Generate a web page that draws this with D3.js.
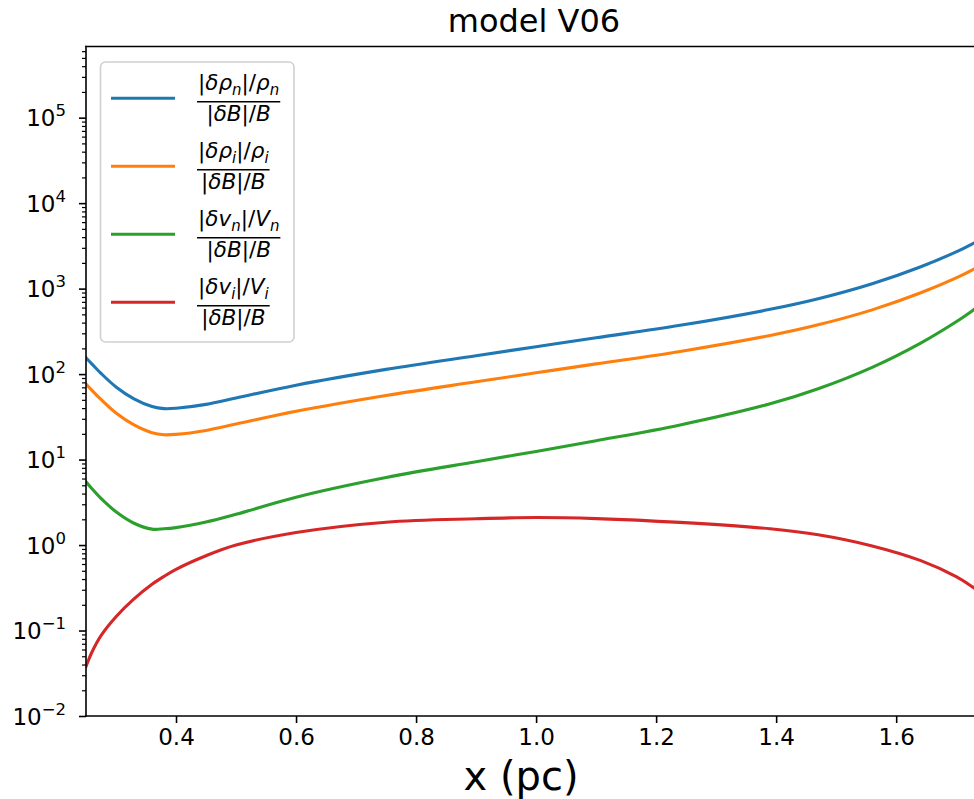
<!DOCTYPE html>
<html><head><meta charset="utf-8">
<script src="https://cdn.jsdelivr.net/npm/d3@7"></script>
<style>body{margin:0;background:#fff} svg{display:block} text{font-family:"DejaVu Sans",sans-serif;fill:#000}</style>
</head><body><svg id="c" width="974" height="799"></svg>
<script>
// ---- data ----
const xValues = [0.25, 0.26, 0.275, 0.3, 0.33, 0.36, 0.38, 0.4, 0.45, 0.5, 0.6, 0.75, 0.9, 1.0, 1.1, 1.24, 1.39, 1.47, 1.56, 1.64, 1.70, 1.727, 1.745];
const rhoN = [155, 131, 102, 70.8, 51.3, 41.7, 39.4, 39.8, 44.2, 52.5, 74.1, 113.5, 164, 209, 266, 372, 572, 761, 1140, 1791, 2692, 3346, 3950];
const rhoI = [76.7, 64.5, 50.5, 35.0, 25.4, 20.6, 19.5, 19.7, 21.9, 26.0, 36.7, 56.2, 81.2, 103.5, 131.7, 184, 283, 377, 564, 887, 1333, 1656, 1955];
const velN = [5.50, 4.55, 3.51, 2.45, 1.80, 1.535, 1.55, 1.60, 1.86, 2.29, 3.63, 6.17, 9.44, 12.45, 16.6, 25.4, 44.9, 67.4, 120, 229, 410, 552, 685];
const velI = [0.038, 0.056, 0.087, 0.145, 0.234, 0.347, 0.43, 0.52, 0.75, 1.0, 1.40, 1.85, 2.03, 2.10, 2.04, 1.84, 1.55, 1.32, 0.977, 0.661, 0.427, 0.324, 0.263];
const seriesColors = ["#1f77b4", "#ff7f0e", "#2ca02c", "#d62728"];
const xTickValues = [0.4, 0.6, 0.8, 1.0, 1.2, 1.4, 1.6];
const yTickExponents = [-2, -1, 0, 1, 2, 3, 4, 5];
const xDomain = [0.25, 1.743];
const yDomain = [1e-2, 6.8e5];
const titleText = "model V06";
const xLabelText = "x (pc)";
const legendNum = [
  {a:"δρ", s1:"n", b:"ρ", s2:"n"},
  {a:"δρ", s1:"i", b:"ρ", s2:"i"},
  {a:"δv", s1:"n", b:"V", s2:"n"},
  {a:"δv", s1:"i", b:"V", s2:"i"}
];

const series = [rhoN, rhoI, velN, velI];

// ---- layout ----
const svg = d3.select("#c");
const L = 86, R = 982, T = 46.5, B = 716;
const x = d3.scaleLinear().domain(xDomain).range([L, R]);
const y = d3.scaleLog().domain(yDomain).range([B, T]);

svg.append("defs").append("clipPath").attr("id","clip")
  .append("rect").attr("x",L).attr("y",T).attr("width",R-L).attr("height",B-T);

const line = d3.line().x((d,i)=>x(xValues[i])).y(d=>y(d)).curve(d3.curveCatmullRom.alpha(0.5));
const g = svg.append("g").attr("clip-path","url(#clip)");
series.forEach((s,k)=>{
  g.append("path").attr("d", line(s)).attr("fill","none")
   .attr("stroke", seriesColors[k]).attr("stroke-width",3.1)
   .attr("stroke-linecap","square");
});

// spines
svg.append("line").attr("x1",L).attr("x2",L).attr("y1",T).attr("y2",B).attr("stroke","#000").attr("stroke-width",1.6).attr("stroke-linecap","square");
svg.append("line").attr("x1",L).attr("x2",R).attr("y1",B).attr("y2",B).attr("stroke","#000").attr("stroke-width",1.6).attr("stroke-linecap","square");
svg.append("line").attr("x1",L).attr("x2",R).attr("y1",T).attr("y2",T).attr("stroke","#000").attr("stroke-width",1.6).attr("stroke-linecap","square");

// x axis
const xAxis = d3.axisBottom(x).tickValues(xTickValues).tickSize(7).tickPadding(6).tickFormat(d3.format(".1f"));
const gx = svg.append("g").attr("transform",`translate(0,${B})`).call(xAxis);
gx.select(".domain").remove();
gx.selectAll(".tick line").attr("stroke","#000").attr("stroke-width",1.6);
gx.selectAll(".tick text").attr("font-size",23).attr("font-family","DejaVu Sans").attr("fill","#000").attr("dy","0.71em");

// y axis major
const yAxis = d3.axisLeft(y).tickValues(yTickExponents.map(e=>Math.pow(10,e))).tickSize(7).tickFormat("");
const gy = svg.append("g").attr("transform",`translate(${L},0)`).call(yAxis);
gy.select(".domain").remove();
gy.selectAll(".tick line").attr("stroke","#000").attr("stroke-width",1.6);
const minor = [];
for (let e=-2; e<=5; e++) for (let m=2; m<=9; m++) { const v=m*Math.pow(10,e); if (v<=yDomain[1]) minor.push(v); }
const yMinor = d3.axisLeft(y).tickValues(minor).tickSize(4).tickFormat("");
const gym = svg.append("g").attr("transform",`translate(${L},0)`).call(yMinor);
gym.select(".domain").remove();
gym.selectAll(".tick line").attr("stroke","#000").attr("stroke-width",1.2);
yTickExponents.forEach(e=>{
  const t = svg.append("text").attr("x",66).attr("y",y(Math.pow(10,e))+8.5).attr("text-anchor","end").attr("font-size",23);
  t.append("tspan").text("10");
  t.append("tspan").attr("dy",-10).attr("font-size",16.5).text(e<0 ? "\u2212"+Math.abs(e) : String(e));
});

// title and x label
svg.append("text").attr("x",(L+R)/2).attr("y",32).attr("text-anchor","middle").attr("font-size",32).text(titleText);
svg.append("text").attr("x",521).attr("y",790).attr("text-anchor","middle").attr("font-size",40).text(xLabelText);

// legend
const lg = svg.append("g");
lg.append("rect").attr("x",100.5).attr("y",62).attr("width",193.5).attr("height",280).attr("rx",5)
  .attr("fill","#fff").attr("fill-opacity",0.8).attr("stroke","#d0d0d0").attr("stroke-width",1.6);
legendNum.forEach((n,k)=>{
  const cy = 98.3 + k*68;
  lg.append("line").attr("x1",111).attr("x2",175).attr("y1",cy).attr("y2",cy).attr("stroke",seriesColors[k]).attr("stroke-width",3.1);
  const num = lg.append("text").attr("x",0).attr("y",cy-8.3).attr("font-size",21.5);
  num.append("tspan").text("|");
  num.append("tspan").attr("font-style","italic").text(n.a);
  num.append("tspan").attr("font-style","italic").attr("font-size",15).attr("dy",4.5).text(n.s1);
  num.append("tspan").attr("dy",-4.5).text("|/");
  num.append("tspan").attr("font-style","italic").text(n.b);
  num.append("tspan").attr("font-style","italic").attr("font-size",15).attr("dy",4.5).text(n.s2);
  const den = lg.append("text").attr("x",0).attr("y",cy+22.7).attr("font-size",21.5);
  den.append("tspan").text("|");
  den.append("tspan").attr("font-style","italic").text("δB");
  den.append("tspan").text("|/");
  den.append("tspan").attr("font-style","italic").text("B");
  const wn = num.node().getComputedTextLength(), wd = den.node().getComputedTextLength();
  const w = Math.max(wn, wd) + 2;
  const left = 197;
  num.attr("x", left + (w-wn)/2);
  den.attr("x", left + (w-wd)/2);
  lg.append("line").attr("x1",left).attr("x2",left+w).attr("y1",cy+3.4).attr("y2",cy+3.4).attr("stroke","#000").attr("stroke-width",1.4);
});
</script></body></html>
